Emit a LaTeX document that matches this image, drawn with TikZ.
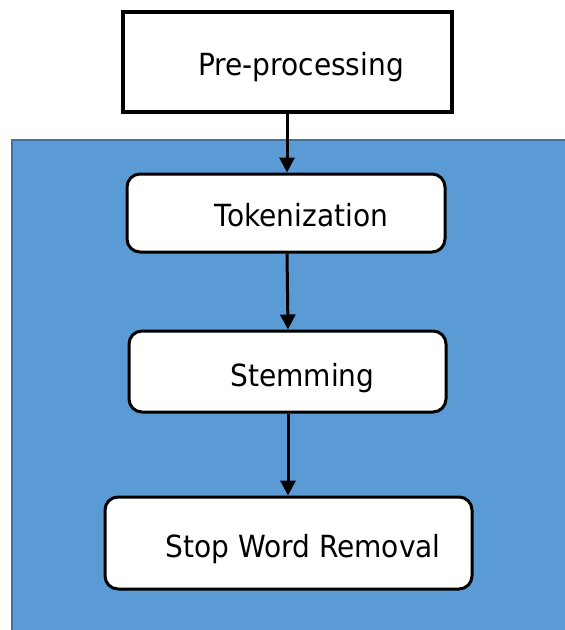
\documentclass[tikz,border=0pt]{standalone}
\usepackage{fontspec}
\setmainfont{DejaVu Sans}[FakeStretch=0.92]
\usetikzlibrary{arrows.meta}
\definecolor{panelblue}{HTML}{5B9BD5}
\definecolor{paneledge}{HTML}{41719C}
\begin{document}
\begin{tikzpicture}[x=1pt,y=-1pt,
  stagebox/.style={draw=black,line width=3pt,fill=white,rounded corners=13pt,inner sep=0pt},
  headbox/.style={draw=black,line width=3.4pt,fill=white,inner sep=0pt},
  stagetext/.style={anchor=base,font=\fontsize{30.5}{36}\selectfont,inner sep=0pt},
  flow/.style={line width=3pt,-{Triangle[length=15pt,width=15pt]}}]
  \useasboundingbox (0,0) rectangle (565,630);
  % blue panel behind the pipeline stages
  \fill[panelblue] (12,140) rectangle (570,635);
  \draw[paneledge,line width=1.4pt] (12,635) -- (12,140) -- (570,140);
  % boxes
  \node[headbox,minimum width=329pt,minimum height=100pt] (pre) at (287.5,62) {};
  \node[stagebox,minimum width=318pt,minimum height=78pt] (tok) at (286,213) {};
  \node[stagebox,minimum width=317pt,minimum height=81pt] (stem) at (287.5,371.5) {};
  \node[stagebox,minimum width=367pt,minimum height=92pt] (stop) at (288.5,543) {};
  % labels
  \node[stagetext] (preT) at (301,75) {Pre-processing};
  \node[stagetext] (tokT) at (301.5,226) {Tokenization};
  \node[stagetext] (stemT) at (302.5,386) {Stemming};
  \node[stagetext] (stopT) at (303,557) {Stop Word Removal};
  % connectors
  \draw[flow] (pre.south -| 287,0) -- (tok.north -| 287,0);
  \draw[flow] (tok.south -| 287,0) -- (stem.north -| 288,0);
  \draw[flow] (stem.south -| 288,0) -- (stop.north -| 288,0);
\end{tikzpicture}
\end{document}
